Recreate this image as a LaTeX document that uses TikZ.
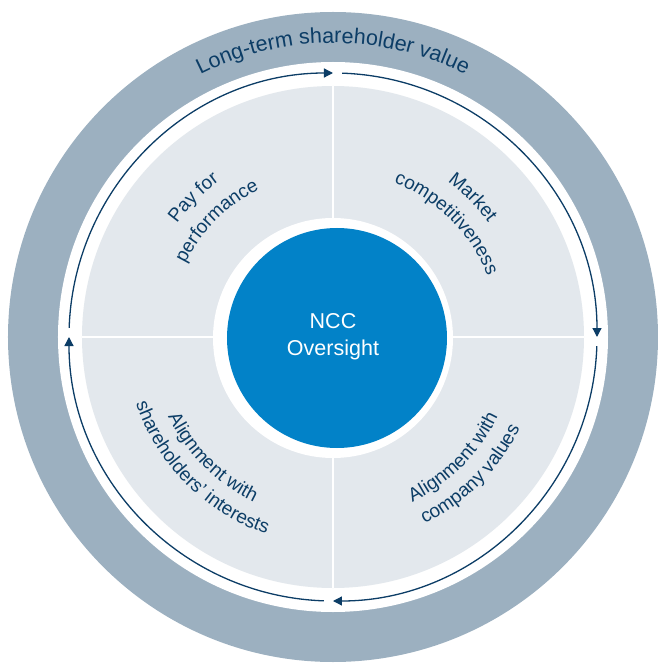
\documentclass[tikz,border=0pt]{standalone}
\usepackage{fontspec}
\setmainfont{Liberation Sans}
\usepackage{tikz}
\usetikzlibrary{arrows.meta, decorations.text}
\definecolor{ringgray}{RGB}{156,176,192}
\definecolor{discgray}{RGB}{227,232,237}
\definecolor{nccblue}{RGB}{2,130,200}
\definecolor{navy}{RGB}{12,61,102}

\begin{document}
\begin{tikzpicture}
    \tikzstyle{disc} = [circle, inner sep=0pt, outer sep=0pt]
    \tikzstyle{arctext} = [decorate, decoration={text along path, text align=center, text color=navy}]
    \tikzstyle{cycle} = [draw=navy, line width=1.3pt, -{Triangle[length=9pt, width=9pt]}]

    \useasboundingbox (-333pt,-327pt) rectangle (324pt,337pt);

    \node [disc, fill=ringgray, minimum size=650pt] (band) at (0,0) {};
    \node [disc, fill=white, minimum size=550pt] (gap) at (0,0) {};
    \node [disc, fill=discgray, minimum size=502pt] (field) at (0,0) {};

    \draw [white, line width=2pt] (field.north) -- (field.south);
    \draw [white, line width=2pt] (field.west) -- (field.east);

    \node [disc, fill=white, minimum size=240pt] (rim) at (0,-1pt) {};
    \node [disc, fill=nccblue, minimum size=220pt] (core) at (4pt,-1pt) {};
    \node [text=white, align=center, font=\fontsize{21.5}{27}\selectfont] (ncc) at (0,0) {NCC\\Oversight};

    \foreach \s in {88,-2,-92,-182}
        \draw [cycle] (\s:264pt) arc[start angle=\s, end angle=\s-88, radius=264pt];

    \path [arctext, decoration={text={|\fontsize{21.5}{22}\selectfont|Long-term shareholder value}}]
        (140:294pt) arc[start angle=140, end angle=40, radius=294pt];

    \path [arctext, decoration={text={|\fontsize{19}{19}\selectfont|Pay for}}]
        (175:193pt) arc[start angle=175, end angle=95, radius=193pt];
    \path [arctext, decoration={text={|\fontsize{19}{19}\selectfont|performance}}]
        (175:165pt) arc[start angle=175, end angle=95, radius=165pt];

    \path [arctext, decoration={text={|\fontsize{19}{19}\selectfont|Market}}]
        (85:193pt) arc[start angle=85, end angle=5, radius=193pt];
    \path [arctext, decoration={text={|\fontsize{19}{19}\selectfont|competitiveness}}]
        (85:166pt) arc[start angle=85, end angle=5, radius=166pt];

    \path [arctext, decoration={text={|\fontsize{19}{19}\selectfont|Alignment with}}]
        (185:183pt) arc[start angle=185, end angle=265, radius=183pt];
    \path [arctext, decoration={text={|\fontsize{19}{19}\selectfont|shareholders’ interests}}]
        (185:208pt) arc[start angle=185, end angle=265, radius=208pt];

    \path [arctext, decoration={text={|\fontsize{19}{19}\selectfont|Alignment with}}]
        (275:183pt) arc[start angle=275, end angle=355, radius=183pt];
    \path [arctext, decoration={text={|\fontsize{19}{19}\selectfont|company values}}]
        (275:208pt) arc[start angle=275, end angle=355, radius=208pt];
\end{tikzpicture}
\end{document}
